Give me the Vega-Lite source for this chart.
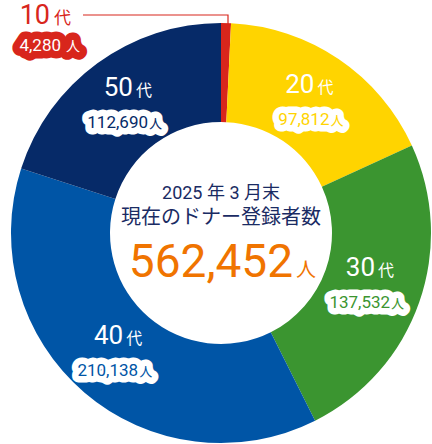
{
  "$schema": "https://vega.github.io/schema/vega-lite/v6.json",
  "width": 432,
  "height": 444,
  "autosize": {"type": "fit", "contains": "padding"},
  "padding": 0,
  "background": "white",
  "config": {"view": {"stroke": null}, "font": "Roboto, Noto Sans CJK JP"},
  "data": {
    "values": [
      {"age": "10代", "decade": "10", "count": 4280},
      {"age": "20代", "decade": "20", "count": 97812},
      {"age": "30代", "decade": "30", "count": 137532},
      {"age": "40代", "decade": "40", "count": 210138},
      {"age": "50代", "decade": "50", "count": 112690}
    ]
  },
  "layer": [
    {
      "mark": {"type": "arc", "innerRadius": 111, "outerRadius": 210, "xOffset": 5, "yOffset": 11},
      "encoding": {
        "theta": {"field": "count", "type": "quantitative", "stack": true},
        "order": {"field": "age", "type": "ordinal"},
        "color": {
          "field": "age", "type": "nominal", "legend": null,
          "scale": {"domain": ["10代", "20代", "30代", "40代", "50代"], "range": ["#d8261c", "#ffd400", "#3b9530", "#0055a6", "#062a68"]}
        }
      }
    },
    {
      "mark": {"type": "text", "radius": 158, "xOffset": 5, "yOffset": 11, "align": "right", "baseline": "alphabetic", "dx": 5, "dy": -9, "fontSize": 26, "font": "Roboto", "fill": "white"},
      "encoding": {
        "theta": {"field": "count", "type": "quantitative", "stack": true},
        "order": {"field": "age", "type": "ordinal"},
        "detail": {"field": "age"},
        "text": {"field": "decade"},
        "opacity": {"condition": {"test": "datum.age === '10代'", "value": 0}, "value": 1}
      }
    },
    {
      "mark": {"type": "text", "radius": 158, "xOffset": 5, "yOffset": 11, "align": "left", "baseline": "alphabetic", "dx": 8, "dy": -9, "fontSize": 16, "font": "Noto Sans CJK JP", "fill": "white"},
      "encoding": {
        "theta": {"field": "count", "type": "quantitative", "stack": true},
        "order": {"field": "age", "type": "ordinal"},
        "detail": {"field": "age"},
        "text": {"value": "代"},
        "opacity": {"condition": {"test": "datum.age === '10代'", "value": 0}, "value": 1}
      }
    },
    {
      "mark": {"type": "text", "radius": 158, "xOffset": 5, "yOffset": 11, "align": "right", "baseline": "alphabetic", "dx": 20, "dy": 23, "fontSize": 17, "font": "Roboto", "fill": "white", "stroke": "white", "strokeWidth": 13, "strokeJoin": "round"},
      "encoding": {
        "theta": {"field": "count", "type": "quantitative", "stack": true},
        "order": {"field": "age", "type": "ordinal"},
        "detail": {"field": "age"},
        "text": {"field": "count", "type": "quantitative", "format": ",d"},
        "opacity": {"condition": {"test": "datum.age === '10代'", "value": 0}, "value": 1}
      }
    },
    {
      "mark": {"type": "text", "radius": 158, "xOffset": 5, "yOffset": 11, "align": "left", "baseline": "alphabetic", "dx": 21, "dy": 23, "fontSize": 13, "font": "Noto Sans CJK JP", "fill": "white", "stroke": "white", "strokeWidth": 13, "strokeJoin": "round"},
      "encoding": {
        "theta": {"field": "count", "type": "quantitative", "stack": true},
        "order": {"field": "age", "type": "ordinal"},
        "detail": {"field": "age"},
        "text": {"value": "人"},
        "opacity": {"condition": {"test": "datum.age === '10代'", "value": 0}, "value": 1}
      }
    },
    {
      "mark": {"type": "text", "radius": 158, "xOffset": 5, "yOffset": 11, "align": "right", "baseline": "alphabetic", "dx": 20, "dy": 23, "fontSize": 17, "font": "Roboto"},
      "encoding": {
        "theta": {"field": "count", "type": "quantitative", "stack": true},
        "order": {"field": "age", "type": "ordinal"},
        "color": {"field": "age", "type": "nominal", "legend": null},
        "text": {"field": "count", "type": "quantitative", "format": ",d"},
        "opacity": {"condition": {"test": "datum.age === '10代'", "value": 0}, "value": 1}
      }
    },
    {
      "mark": {"type": "text", "radius": 158, "xOffset": 5, "yOffset": 11, "align": "left", "baseline": "alphabetic", "dx": 21, "dy": 23, "fontSize": 13, "font": "Noto Sans CJK JP"},
      "encoding": {
        "theta": {"field": "count", "type": "quantitative", "stack": true},
        "order": {"field": "age", "type": "ordinal"},
        "color": {"field": "age", "type": "nominal", "legend": null},
        "text": {"value": "人"},
        "opacity": {"condition": {"test": "datum.age === '10代'", "value": 0}, "value": 1}
      }
    },
    {
      "transform": [{"filter": "datum.age === '10代'"}],
      "mark": {"type": "point", "shape": "M -138 -218 H 7 V -209", "size": 4, "filled": false, "stroke": "#d8261c", "strokeWidth": 1.2, "opacity": 1, "xOffset": 5, "yOffset": 11}
    },
    {
      "transform": [{"filter": "datum.age === '10代'"}],
      "mark": {"type": "text", "xOffset": 5, "yOffset": 11, "align": "right", "baseline": "alphabetic", "dx": -171, "dy": -209, "fontSize": 27, "font": "Roboto", "fill": "#d8261c"},
      "encoding": {"text": {"field": "decade"}}
    },
    {
      "transform": [{"filter": "datum.age === '10代'"}],
      "mark": {"type": "text", "xOffset": 5, "yOffset": 11, "align": "left", "baseline": "alphabetic", "dx": -167, "dy": -209, "fontSize": 17, "font": "Noto Sans CJK JP", "fill": "#d8261c"},
      "encoding": {"text": {"value": "代"}}
    },
    {
      "transform": [{"filter": "datum.age === '10代'"}],
      "mark": {"type": "text", "xOffset": 5, "yOffset": 11, "align": "right", "baseline": "alphabetic", "dx": -160, "dy": -182, "fontSize": 17, "font": "Roboto", "fill": "#d8261c", "stroke": "#d8261c", "strokeWidth": 15, "strokeJoin": "round"},
      "encoding": {"text": {"field": "count", "type": "quantitative", "format": ",d"}}
    },
    {
      "transform": [{"filter": "datum.age === '10代'"}],
      "mark": {"type": "text", "xOffset": 5, "yOffset": 11, "align": "left", "baseline": "alphabetic", "dx": -155, "dy": -182, "fontSize": 14, "font": "Noto Sans CJK JP", "fill": "#d8261c", "stroke": "#d8261c", "strokeWidth": 15, "strokeJoin": "round"},
      "encoding": {"text": {"value": "人"}}
    },
    {
      "transform": [{"filter": "datum.age === '10代'"}],
      "mark": {"type": "text", "xOffset": 5, "yOffset": 11, "align": "right", "baseline": "alphabetic", "dx": -160, "dy": -182, "fontSize": 17, "font": "Roboto", "fill": "white"},
      "encoding": {"text": {"field": "count", "type": "quantitative", "format": ",d"}}
    },
    {
      "transform": [{"filter": "datum.age === '10代'"}],
      "mark": {"type": "text", "xOffset": 5, "yOffset": 11, "align": "left", "baseline": "alphabetic", "dx": -155, "dy": -182, "fontSize": 14, "font": "Noto Sans CJK JP", "fill": "white"},
      "encoding": {"text": {"value": "人"}}
    },
    {
      "transform": [{"aggregate": [{"op": "sum", "field": "count", "as": "total"}]}],
      "mark": {"type": "text", "xOffset": 5, "yOffset": 11, "align": "center", "baseline": "middle", "dy": -39, "fontSize": 18, "fill": "#1a2b63"},
      "encoding": {"text": {"value": "2025 年 3 月末"}}
    },
    {
      "transform": [{"aggregate": [{"op": "sum", "field": "count", "as": "total"}]}],
      "mark": {"type": "text", "xOffset": 5, "yOffset": 11, "align": "center", "baseline": "middle", "dy": -15, "fontSize": 20, "font": "Noto Sans CJK JP", "fill": "#1a2b63"},
      "encoding": {"text": {"value": "現在のドナー登録者数"}}
    },
    {
      "transform": [{"aggregate": [{"op": "sum", "field": "count", "as": "total"}]}],
      "mark": {"type": "text", "xOffset": 5, "yOffset": 11, "align": "right", "baseline": "alphabetic", "dx": 72, "dy": 44, "fontSize": 46, "font": "Roboto", "fill": "#f07400"},
      "encoding": {"text": {"field": "total", "type": "quantitative", "format": ",d"}}
    },
    {
      "transform": [{"aggregate": [{"op": "sum", "field": "count", "as": "total"}]}],
      "mark": {"type": "text", "xOffset": 5, "yOffset": 11, "align": "left", "baseline": "alphabetic", "dx": 75, "dy": 44, "fontSize": 20, "font": "Noto Sans CJK JP", "fill": "#f07400"},
      "encoding": {"text": {"value": "人"}}
    }
  ]
}
